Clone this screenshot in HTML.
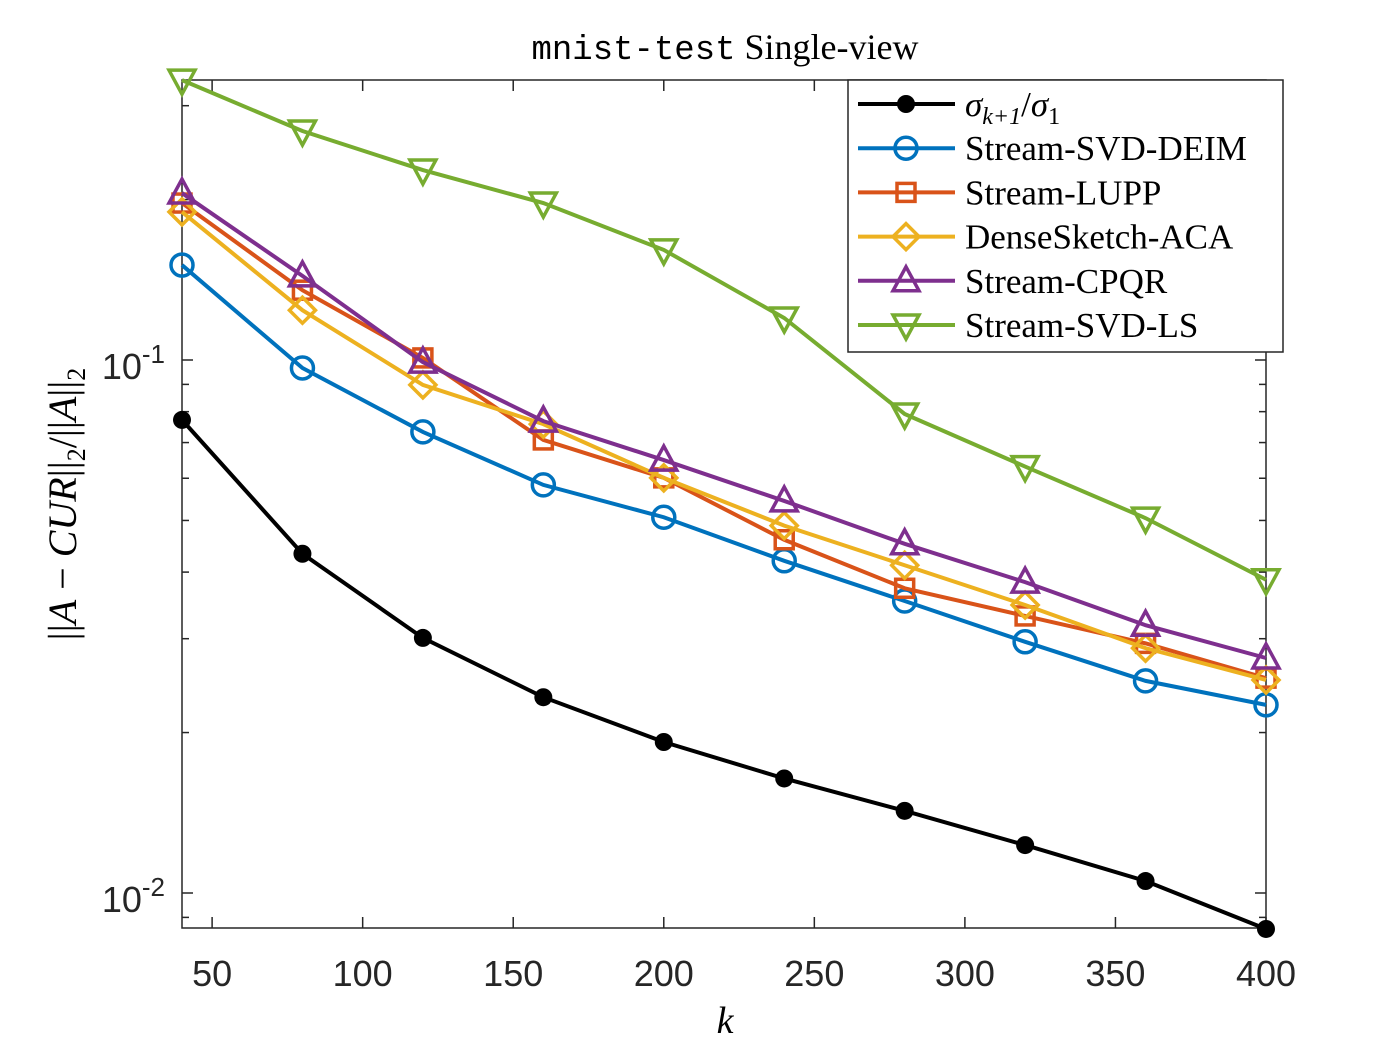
<!DOCTYPE html>
<html><head><meta charset="utf-8"><style>
body{margin:0;background:#fff}
svg{display:block}
.tk{font-family:"Liberation Sans",sans-serif;font-size:36px;fill:#262626}
.lg{font-family:"Liberation Serif",serif;font-size:35px;fill:#000}
</style></head><body>
<svg id="chart" width="1400" height="1050" viewBox="0 0 1400 1050" xmlns="http://www.w3.org/2000/svg">
<rect width="1400" height="1050" fill="#fff"/>
<text x="725" y="59" text-anchor="middle" font-size="36"><tspan font-family="Liberation Mono,monospace" font-size="34">mnist-test</tspan><tspan font-family="Liberation Serif,serif"> Single-view</tspan></text>
<g id="plot"></g>
<text x="725" y="1033" text-anchor="middle" font-family="Liberation Serif,serif" font-style="italic" font-size="38">k</text>
<text transform="translate(76,504) rotate(-90)" text-anchor="middle" font-family="Liberation Serif,serif" font-size="40"><tspan>||</tspan><tspan font-style="italic">A</tspan><tspan> − </tspan><tspan font-style="italic">CUR</tspan><tspan>||</tspan><tspan font-size="26" dy="9">2</tspan><tspan dy="-9">/||</tspan><tspan font-style="italic">A</tspan><tspan>||</tspan><tspan font-size="26" dy="9">2</tspan></text>
</svg>
<script>
const ks=[40,80,120,160,200,240,280,320,360,400];
const sigma=[0.0772,0.0433,0.0301,0.0233,0.0192,0.0164,0.01426,0.0123,0.01053,0.00856];
const svdDeim=[0.1507,0.0966,0.0733,0.0583,0.0507,0.0420,0.0353,0.0296,0.0250,0.02254];
const lupp=[0.197,0.1352,0.1009,0.0708,0.0601,0.0460,0.0373,0.0331,0.0294,0.0253];
const aca=[0.1896,0.124,0.0898,0.0758,0.0601,0.0489,0.0412,0.0347,0.0288,0.0251];
const cpqr=[0.2057,0.1438,0.0991,0.0768,0.0649,0.0544,0.0452,0.0383,0.0318,0.0276];
const svdLs=[0.335,0.2689,0.2272,0.197,0.1609,0.1199,0.0792,0.0631,0.0505,0.0387];
const xTicks=[50,100,150,200,250,300,350,400];
const names=["σ","Stream-SVD-DEIM","Stream-LUPP","DenseSketch-ACA","Stream-CPQR","Stream-SVD-LS"];

const L=182,R=1266,T=80,B=928;
const X=v=>L+(v-40)/(400-40)*(R-L);
const Y=v=>360-(Math.log10(v)+1)*533;
const NS="http://www.w3.org/2000/svg";
const g=document.getElementById('plot');
function mk(t,a,p){const e=document.createElementNS(NS,t);for(const k in a)e.setAttribute(k,a[k]);(p||g).appendChild(e);return e;}

let ax=mk('rect',{x:L,y:T,width:R-L,height:B-T,fill:'none',stroke:'#262626','stroke-width':1.5});


xTicks.forEach(v=>{const x=X(v);
 mk('line',{x1:x,x2:x,y1:B,y2:B-11,stroke:'#262626','stroke-width':1.5});
 mk('line',{x1:x,x2:x,y1:T,y2:T+11,stroke:'#262626','stroke-width':1.5});
 const t=mk('text',{x:x,y:986,'text-anchor':'middle',class:'tk'});t.textContent=v;
 
 
});
const yMinor=[0.009,0.02,0.03,0.04,0.05,0.06,0.07,0.08,0.09,0.2,0.3];
[0.01,0.1].concat(yMinor).forEach(v=>{const y=Y(v);const len=(v==0.01||v==0.1)?11:7;
 mk('line',{x1:L,x2:L+len,y1:y,y2:y,stroke:'#262626','stroke-width':1.5});
 mk('line',{x1:R,x2:R-len,y1:y,y2:y,stroke:'#262626','stroke-width':1.5});});
[[0.1,'-1'],[0.01,'-2']].forEach(([v,e])=>{const t=mk('text',{x:165,y:Y(v)+19,'text-anchor':'end',class:'tk'});
 
 
 const a=mk('tspan',{},t);a.textContent='10';const b=mk('tspan',{dy:-16,'font-size':26},t);b.textContent=e;});

function marker(p,type,x,y,c){
 const s={fill:'none',stroke:c,'stroke-width':3.5};
 if(type=='dot')mk('circle',{cx:x,cy:y,r:9,fill:c},p);
 else if(type=='circ')mk('circle',Object.assign({cx:x,cy:y,r:11},s),p);
 else if(type=='sq')mk('rect',Object.assign({x:x-9,y:y-9,width:18,height:18},s),p);
 else if(type=='dia')mk('polygon',Object.assign({points:`${x},${y-13} ${x+13},${y} ${x},${y+13} ${x-13},${y}`},s),p);
 else if(type=='up')mk('polygon',Object.assign({points:`${x},${y-14} ${x+13},${y+10} ${x-13},${y+10}`},s),p);
 else if(type=='dn')mk('polygon',Object.assign({points:`${x},${y+14} ${x+13},${y-10} ${x-13},${y-10}`},s),p);
}
const series=[[sigma,'#000','dot','series-sigma'],[svdDeim,'#0072BD','circ','series-stream-svd-deim'],[lupp,'#D95319','sq','series-stream-lupp'],[aca,'#EDB120','dia','series-densesketch-aca'],[cpqr,'#7E2F8E','up','series-stream-cpqr'],[svdLs,'#77AC30','dn','series-stream-svd-ls']];
series.forEach(([d,c,m,n])=>{const sg=mk('g',{});
 
 
 mk('polyline',{points:d.map((v,i)=>X(ks[i])+','+Y(v)).join(' '),fill:'none',stroke:c,'stroke-width':4},sg);
 d.forEach((v,i)=>marker(sg,m,X(ks[i]),Y(v),c));});

const lg=mk('g',{});


mk('rect',{x:848,y:80,width:435,height:272,fill:'#fff',stroke:'#262626','stroke-width':1.5},lg);
series.forEach(([d,c,m],i)=>{const y=104+i*44.2;const e=mk('g',{},lg);
 
 
 mk('line',{x1:858,x2:955,y1:y,y2:y,stroke:c,'stroke-width':4},e);
 marker(e,m,906,y,c);
 const t=mk('text',{x:965,y:y+12,class:'lg'},e);
 if(i==0){const a=mk('tspan',{'font-style':'italic'},t);a.textContent='σ';const b=mk('tspan',{'font-style':'italic','font-size':24,dy:8},t);b.textContent='k+1';
  const c2=mk('tspan',{dy:-8},t);c2.textContent='/';const d2=mk('tspan',{'font-style':'italic'},t);d2.textContent='σ';const e2=mk('tspan',{'font-size':24,dy:8},t);e2.textContent='1';}
 else t.textContent=names[i];});
</script>
</body></html>
